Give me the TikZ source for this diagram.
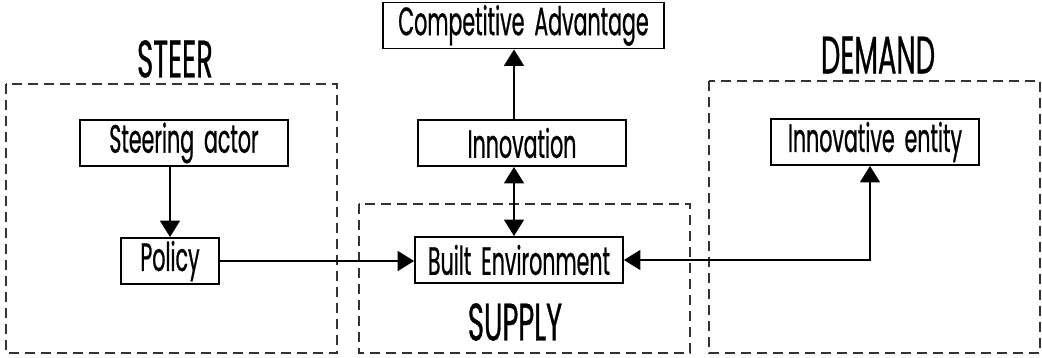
\documentclass[tikz,border=0pt]{standalone}
\usepackage{fontspec}
\setmainfont{Poppins}[FakeStretch=0.52, FakeBold=0.6, WordSpace=1.8]
\usetikzlibrary{arrows.meta,positioning}

\begin{document}
\begin{tikzpicture}[x=0.02cm, y=-0.02cm, >={Triangle[width=0.4cm,length=0.33cm]},
  box/.style={draw, line width=1.1pt, minimum width=4.16cm, minimum height=0.92cm, inner sep=0pt, font=\fontsize{22.5}{24}\selectfont},
  zone/.style={draw=black!80, line width=1.1pt, dash pattern=on 0.2cm off 0.12cm},
  zonelabel/.style={inner sep=0pt, font=\fontsize{30}{33}\selectfont},
  link/.style={line width=1.1pt}]
\useasboundingbox (0,0) rectangle (1042,358);

% the three zones
\draw[zone] (6,84) rectangle (337,353);
\draw[zone] (359,204) rectangle (690,353);
\draw[zone] (709,81) rectangle (1040,353);
\node[zonelabel] (steer) at (175,59) {STEER};
\node[zonelabel] (supply) at (515,322) {SUPPLY};
\node[zonelabel] (demand) at (878,55) {DEMAND};

\node[box] (actor) at (184,143) {Steering actor};
\node[box, minimum width=1.96cm] (policy) at (170,261) {Policy};
\node[box, minimum width=5.62cm] (compadv) at (523.5,25.5) {Competitive Advantage};
\node[box] (innov) at (522,143) {Innovation};
\node[box] (builtenv) at (519,260) {Built Environment};
\node[box] (entity) at (875,142) {Innovative entity};

\coordinate (vx) at (514,0);
\coordinate (ex) at (870,0);
\draw[link, ->] (actor.south -| policy.north) -- (policy.north);
\draw[link, ->] (policy.east) -- (policy.east -| builtenv.west);
\draw[link, ->] (innov.north -| vx) -- (compadv.south -| vx);
\draw[link, <->] (builtenv.north -| vx) -- (innov.south -| vx);
\draw[link, <->] (builtenv.east) -| (entity.south -| ex);
\end{tikzpicture}
\end{document}
